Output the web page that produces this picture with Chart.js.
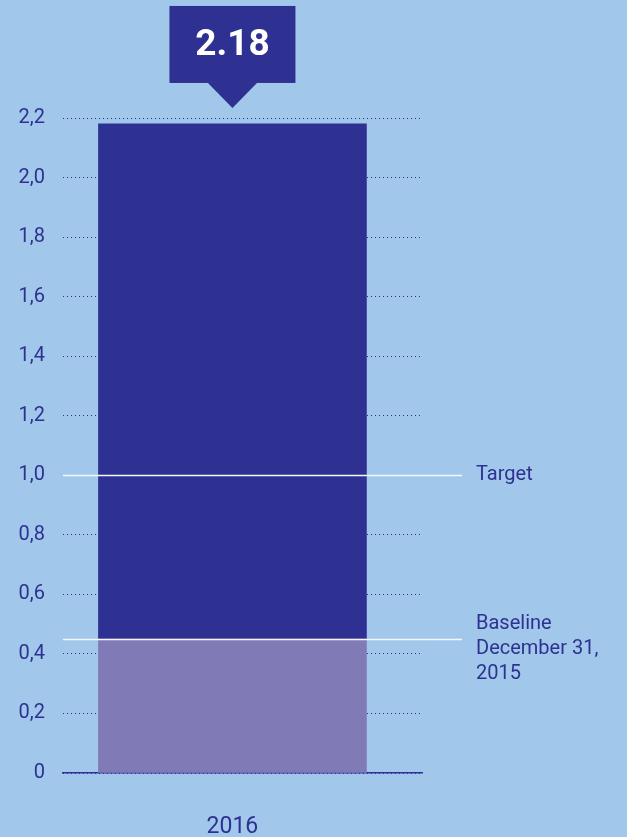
<!DOCTYPE html>
<html>
<head>
<meta charset="utf-8">
<script src="https://cdn.jsdelivr.net/npm/chart.js@4"></script>
<style>
  html, body { margin: 0; padding: 0; background: #a1c8ea; }
  #wrap { width: 627px; height: 837px; position: relative; }
</style>
</head>
<body>
<div id="wrap"><canvas id="c"></canvas></div>
<script>
// Result per year, with the starting level shown as the lower segment
const categories = ['2016'];
const baselineValues = [0.45];
const resultValues = [2.18];

// Reference levels drawn across the chart
const targetValue = 1.0;
const targetLabel = ['Target'];
const baselineLabel = ['Baseline', 'December 31,', '2015'];

// Y-axis ticks
const yTicks = [0, 0.2, 0.4, 0.6, 0.8, 1.0, 1.2, 1.4, 1.6, 1.8, 2.0, 2.2];

const NAVY = '#2e3192';
const LILAC = '#807bb7';
const FONT = 'Roboto, "Liberation Sans", sans-serif';

const refLines = {
  id: 'refLines',
  afterDatasetsDraw(chart) {
    const { ctx, scales: { y }, chartArea } = chart;
    const lineEnd = 462;
    const textX = 476;

    ctx.save();
    // white reference lines for target and baseline
    ctx.strokeStyle = '#f4f7fb';
    ctx.lineWidth = 1.5;
    [targetValue, baselineValues[0]].forEach(v => {
      const yy = Math.round(y.getPixelForValue(v)) + 0.5;
      ctx.beginPath();
      ctx.moveTo(chartArea.left, yy);
      ctx.lineTo(lineEnd, yy);
      ctx.stroke();
    });

    // labels to the right of the lines
    ctx.fillStyle = NAVY;
    ctx.font = '20px ' + FONT;
    ctx.textAlign = 'left';
    ctx.textBaseline = 'middle';
    const ty = y.getPixelForValue(targetValue);
    targetLabel.forEach((t, i) => ctx.fillText(t, textX, ty + i * 25));
    const by = y.getPixelForValue(baselineValues[0]);
    baselineLabel.forEach((t, i) => ctx.fillText(t, textX, by - 15 + i * 25));

    // value callout above the bar
    const meta = chart.getDatasetMeta(1);
    meta.data.forEach((bar, i) => {
      const cx = bar.x;
      const top = y.getPixelForValue(resultValues[i]);
      const tipY = top - 16;
      const boxBottom = tipY - 25;
      const boxTop = boxBottom - 77;
      ctx.fillStyle = NAVY;
      ctx.fillRect(cx - 63, boxTop, 126, 77);
      ctx.beginPath();
      ctx.moveTo(cx - 25, boxBottom - 0.5);
      ctx.lineTo(cx + 25, boxBottom - 0.5);
      ctx.lineTo(cx, tipY);
      ctx.closePath();
      ctx.fill();
      ctx.fillStyle = '#ffffff';
      ctx.font = 'bold 37px ' + FONT;
      ctx.textAlign = 'center';
      ctx.textBaseline = 'middle';
      ctx.fillText(resultValues[i].toFixed(2), cx, (boxTop + boxBottom) / 2 + 1);
    });
    ctx.restore();
  }
};

new Chart(document.getElementById('c'), {
  type: 'bar',
  data: {
    datasets: [
      {
        label: 'Baseline',
        data: categories.map((c, i) => ({ x: i, y: [0, baselineValues[i]] })),
        backgroundColor: LILAC,
        grouped: false
      },
      {
        label: 'Result',
        data: categories.map((c, i) => ({ x: i, y: [baselineValues[i], resultValues[i]] })),
        backgroundColor: NAVY,
        grouped: false
      }
    ]
  },
  options: {
    responsive: true,
    maintainAspectRatio: false,
    animation: false,
    barThickness: 268,
    layout: { padding: { top: 118, right: 205, left: 0, bottom: 0 } },
    plugins: {
      legend: { display: false },
      tooltip: { enabled: false }
    },
    scales: {
      x: {
        type: 'linear',
        offset: false,
        min: -0.472,
        max: 0.528,
        afterBuildTicks: s => { s.ticks = categories.map((c, i) => ({ value: i })); },
        grid: { display: false, drawTicks: false },
        border: { display: true, color: NAVY, width: 1.5 },
        ticks: {
          color: NAVY,
          font: { family: FONT, size: 23 },
          padding: 40,
          callback: v => categories[v]
        },
        afterFit: s => { s.height = 64; }
      },
      y: {
        min: 0,
        max: 2.2,
        afterBuildTicks: s => { s.ticks = yTicks.map(v => ({ value: v })); },
        ticks: {
          color: NAVY,
          font: { family: FONT, size: 20 },
          padding: 18,
          callback: v => v === 0 ? '0' : v.toFixed(1).replace('.', ',')
        },
        grid: { color: NAVY, lineWidth: 1, drawTicks: false },
        border: { display: false, dash: [1, 3] },
        afterFit: s => { s.width = 63; }
      }
    }
  },
  plugins: [refLines]
});
</script>
</body>
</html>
